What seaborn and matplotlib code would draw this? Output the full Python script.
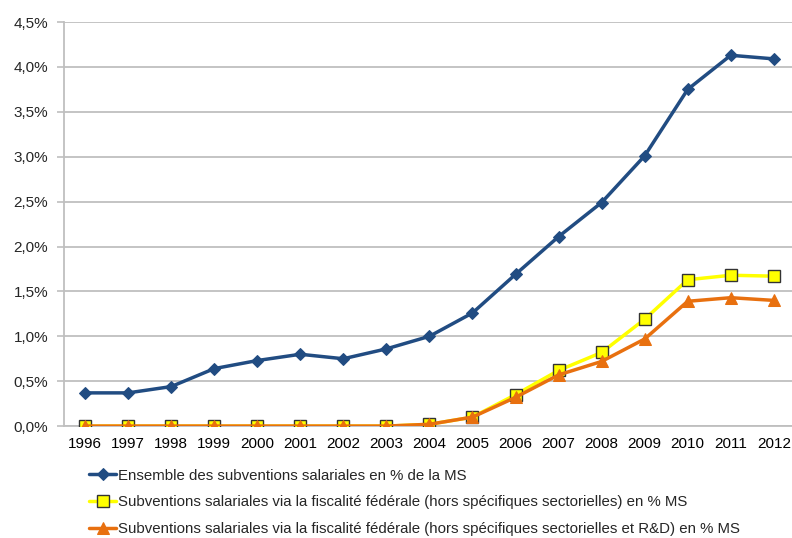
import matplotlib
matplotlib.use("Agg")
import matplotlib.pyplot as plt
import matplotlib.ticker as mticker
import seaborn as sns
import numpy as np

years = ["1996", "1997", "1998", "1999", "2000", "2001", "2002", "2003", "2004",
         "2005", "2006", "2007", "2008", "2009", "2010", "2011", "2012"]

ensemble = [0.37, 0.37, 0.44, 0.64, 0.73, 0.80, 0.75, 0.86, 1.00,
            1.26, 1.69, 2.11, 2.49, 3.01, 3.75, 4.13, 4.09]
hors_sectorielles = [0.0, 0.0, 0.0, 0.0, 0.0, 0.0, 0.0, 0.0, 0.02,
                     0.10, 0.35, 0.62, 0.82, 1.19, 1.63, 1.68, 1.67]
hors_sectorielles_rd = [0.0, 0.0, 0.0, 0.0, 0.0, 0.0, 0.0, 0.0, 0.02,
                        0.10, 0.32, 0.57, 0.72, 0.97, 1.39, 1.43, 1.40]

labels = [
    "Ensemble des subventions salariales en % de la MS",
    "Subventions salariales via la fiscalité fédérale (hors spécifiques sectorielles) en % MS",
    "Subventions salariales via la fiscalité fédérale (hors spécifiques sectorielles et R&D) en % MS",
]

sns.set_style("white")
plt.rcParams["font.family"] = ["Liberation Sans Narrow", "Liberation Sans", "DejaVu Sans"]

fig = plt.figure(figsize=(7.92, 5.38), dpi=100)
ax = fig.add_axes([0.0802, 0.208, 0.924, 0.751])

x = np.arange(len(years))
blue = "#214C82"
yellow = "#FFFF00"
orange = "#E8700F"

sns.lineplot(x=x, y=ensemble, ax=ax, color=blue, lw=2.5, marker="D",
             markersize=6, markeredgecolor=blue, label=labels[0], zorder=4)
sns.lineplot(x=x, y=hors_sectorielles, ax=ax, color=yellow, lw=2.5, marker="s",
             markersize=9, markerfacecolor=yellow, markeredgecolor="#333333",
             markeredgewidth=1.0, label=labels[1], zorder=3)
sns.lineplot(x=x, y=hors_sectorielles_rd, ax=ax, color=orange, lw=2.5, marker="^",
             markersize=9, markeredgecolor=orange, label=labels[2], zorder=5)

ax.set_xlim(-0.5, len(years) - 0.5)
ax.set_ylim(0, 4.5)
ax.yaxis.set_major_locator(mticker.MultipleLocator(0.5))
ax.yaxis.set_major_formatter(mticker.FuncFormatter(lambda v, p: f"{v:.1f}%".replace(".", ",")))
ax.set_xticks(x)
ax.set_xticklabels(years)
ax.set_xticks(np.arange(-0.5, len(years), 1.0), minor=True)

ax.grid(axis="y", color="#BFBFBF", lw=1.3)
ax.set_axisbelow(True)
for side in ["top", "right"]:
    ax.spines[side].set_visible(False)
for side in ["left", "bottom"]:
    ax.spines[side].set_color("#BFBFBF")
    ax.spines[side].set_linewidth(1.3)

ax.tick_params(axis="x", which="major", length=0, pad=8, labelsize=11, colors="#000000")
ax.tick_params(axis="x", which="minor", length=5, width=1.2, color="#BFBFBF", direction="out")
ax.tick_params(axis="y", which="major", length=5, width=1.2, color="#BFBFBF",
               direction="out", labelsize=11, pad=6)
ax.tick_params(axis="y", left=True)
ax.set_xlabel("")
ax.set_ylabel("")

ax.get_legend().remove()
handles, lbls = ax.get_legend_handles_labels()
fig.legend(handles, lbls, loc="upper left", bbox_to_anchor=(0.113, 0.129),
           frameon=False, fontsize=10.8, handlelength=1.8, handletextpad=0.1,
           labelspacing=0.84, borderaxespad=0, borderpad=0)

fig.savefig("out.png", dpi=100)
